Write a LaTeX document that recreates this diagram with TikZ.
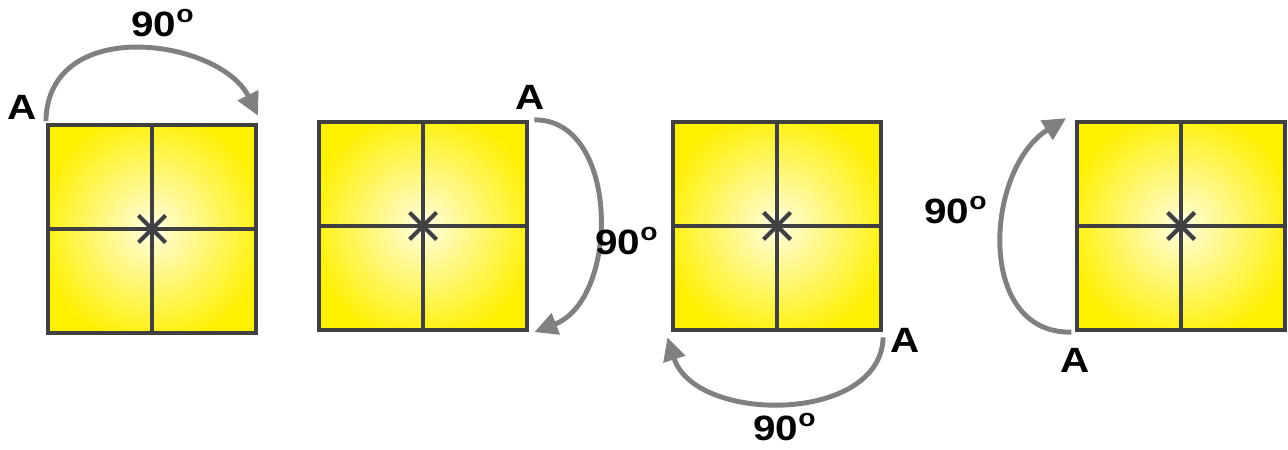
\documentclass[tikz,border=0pt]{standalone}
\usepackage{fontspec}
\setmainfont{Liberation Sans}[FakeStretch=1.15]
\usepackage{xcolor}
\usetikzlibrary{arrows.meta}

\definecolor{sqyellow}{RGB}{255,240,0}
\definecolor{sqedge}{RGB}{64,64,64}
\definecolor{turngray}{RGB}{128,128,128}
\pgfdeclareradialshading{squareglow}{\pgfpointorigin}{color(0bp)=(white); color(4bp)=(white!75!sqyellow); color(28bp)=(sqyellow); color(75bp)=(sqyellow)}

\tikzset{
	square/.style={draw=sqedge, line width=2.4pt, shading=squareglow, minimum size=4.16cm, inner sep=0pt},
	grid/.style={draw=sqedge, line width=2.4pt},
	turn/.style={draw=turngray, line width=2.8pt, -{Triangle[length=0.46cm,width=0.44cm]}},
	lbl/.style={font=\fontsize{20}{24}\selectfont\bfseries, inner sep=0pt}
}

\begin{document}
\begin{tikzpicture}
	\useasboundingbox (0,0) rectangle (25.76,8.98);
	% the four squares
	\node[square] (s1) at (3.04,4.40) {};
	\node[square] (s2) at (8.46,4.46) {};
	\node[square] (s3) at (15.54,4.46) {};
	\node[square] (s4) at (23.62,4.46) {};
	\foreach \s in {s1,s2,s3,s4}{
		\draw[grid] (\s.north) -- (\s.south);
		\draw[grid] (\s.west) -- (\s.east);
		\draw[grid] ([shift={(-0.27,0.27)}]\s.center) -- ([shift={(0.27,-0.27)}]\s.center);
		\draw[grid] ([shift={(-0.27,-0.27)}]\s.center) -- ([shift={(0.27,0.27)}]\s.center);
	}
	% turning arrows
	\draw[turn] ([yshift=1pt]s1.north west) .. controls (0.96,8.7) and (4.4,8.2) .. ([yshift=4pt]s1.north east);
	\draw[turn] ([xshift=3pt]s2.north east) .. controls (12.4,6.6) and (12.4,3.0) .. ([xshift=3pt]s2.south east);
	\draw[turn] ([yshift=-3pt]s3.south east) .. controls (17.62,0.5) and (13.9,0.5) .. ([shift={(-2pt,-3pt)}]s3.south west);
	\draw[turn] ([xshift=-2pt]s4.south west) .. controls (19.5,2.3) and (19.7,5.6) .. ([shift={(-5pt,1pt)}]s4.north west);
	% labels
	\node[lbl] (a1) at (0.44,6.84) {A};
	\node[lbl] (d1) at (3.26,8.52) {90\textsuperscript{o}};
	\node[lbl] (a2) at (10.60,7.04) {A};
	\node[lbl] (d2) at (12.54,4.16) {90\textsuperscript{o}};
	\node[lbl] (a3) at (18.10,2.18) {A};
	\node[lbl] (d3) at (15.70,0.44) {90\textsuperscript{o}};
	\node[lbl] (d4) at (19.12,4.78) {90\textsuperscript{o}};
	\node[lbl] (a4) at (21.50,1.78) {A};
\end{tikzpicture}
\end{document}
